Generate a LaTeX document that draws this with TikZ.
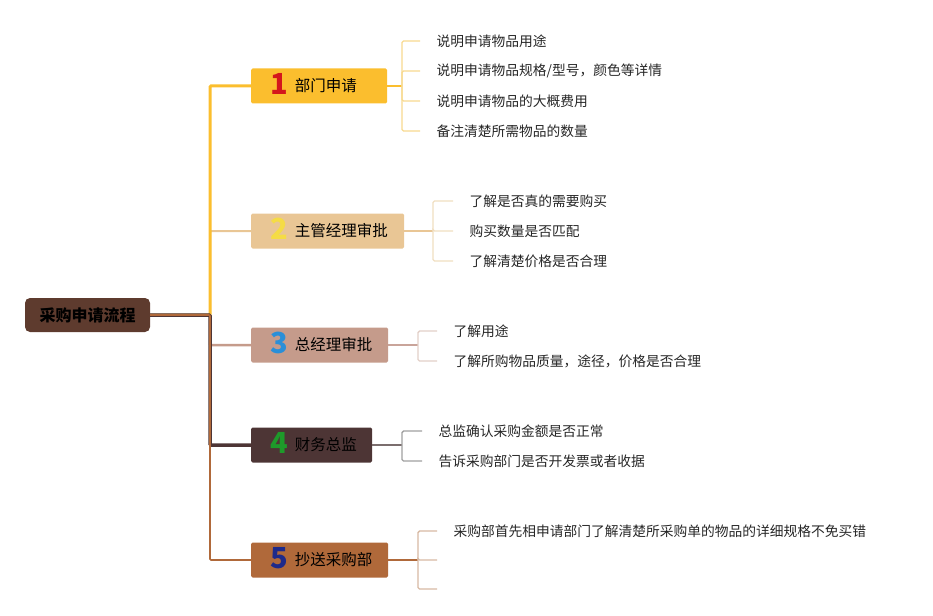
\documentclass[tikz,border=0pt]{standalone}
\usepackage{fontspec}
\setmainfont{Noto Sans CJK SC}
\definecolor{rootbrown}{HTML}{5E3B2E}
\definecolor{stageA}{HTML}{FBBE2E}
\definecolor{stageB}{HTML}{E9C695}
\definecolor{stageC}{HTML}{C59B8B}
\definecolor{stageD}{HTML}{4D3535}
\definecolor{stageE}{HTML}{B0693A}
\definecolor{numA}{HTML}{D4161C}
\definecolor{numB}{HTML}{F5DC45}
\definecolor{numC}{HTML}{2A8FD8}
\definecolor{numD}{HTML}{1E9A2A}
\definecolor{numE}{HTML}{1E2A8A}
\definecolor{twigA}{HTML}{FBBE2E}
\definecolor{twigB}{HTML}{E9C695}
\definecolor{twigC}{HTML}{C9A49A}
\definecolor{twigD}{HTML}{7B6E6E}
\definecolor{twigE}{HTML}{B0693A}
\definecolor{leafA}{HTML}{F7D98F}
\definecolor{leafB}{HTML}{F0DEC0}
\definecolor{leafC}{HTML}{E2CFC8}
\definecolor{leafD}{HTML}{A0A0A0}
\definecolor{leafE}{HTML}{D7B9A3}
\newcommand\stagenum[2]{\raisebox{-3pt}[0pt][0pt]{\textcolor{#1}{\fontsize{29}{29}\selectfont\bfseries #2}}\hspace{7pt}}

\begin{document}
\begin{tikzpicture} [
                x=1pt, y=-1pt,
                root/.style={rectangle,rounded corners=5pt,fill=rootbrown,minimum width=125pt,minimum height=34pt,inner sep=0pt,font=\fontsize{16}{16}\selectfont\bfseries},
                stage/.style={rectangle,rounded corners=1.5pt,anchor=west,minimum height=35pt,inner xsep=19pt,inner ysep=0pt,font=\fontsize{15.5}{16}\selectfont},
                leaf/.style={anchor=west,inner xsep=16.5pt,inner ysep=0pt,text=black!85,font=\fontsize{13.75}{14}\selectfont},
                trunk/.style={draw,rounded corners=1pt},
                twig/.style={draw,line width=1.4pt,rounded corners=1.5pt},
            ]
            \useasboundingbox (0,0) rectangle (933,615);
            \node[root] (root) at (87.5,315) {采购申请流程};
            \foreach \y/\name/\col/\numcol/\num/\txt/\tw in {
                    86/s1/stageA/numA/1/部门申请/98, 231/s2/stageB/numB/2/主管经理审批/115,
                    345/s3/stageC/numC/3/总经理审批/99, 445/s4/stageD/numD/4/财务总监/83,
                    560/s5/stageE/numE/5/抄送采购部/99}
                \node[stage,fill=\col] (\name) at (251,\y) {\makebox[\tw pt][l]{\stagenum{\numcol}{\num}\txt}};
            \foreach \x/\y/\name/\txt in {
                    420/41/s1a/说明申请物品用途, 420/71/s1b/{说明申请物品规格/型号，颜色等详情},
                    420/101/s1c/说明申请物品的大概费用, 420/131/s1d/备注清楚所需物品的数量,
                    453/201/s2a/了解是否真的需要购买, 453/231/s2b/购买数量是否匹配, 453/261/s2c/了解清楚价格是否合理,
                    437/331/s3a/了解用途, 437/361/s3b/了解所购物品质量，途径，价格是否合理,
                    422/431/s4a/总监确认采购金额是否正常, 422/461/s4b/告诉采购部门是否开发票或者收据,
                    437/531/s5a/采购部首先相申请部门了解清楚所采购单的物品的详细规格不免买错,
                    437/560/s5b/{}, 437/589/s5c/{}}
                \node[leaf] (\name) at (\x,\y) {\txt};
            % trunk from the root to every stage
            \coordinate (spine) at (210,315);
            \foreach \name/\col/\wd in {
                    s2/stageB/2pt, s1/stageA/3pt, s3/stageC/2.5pt, s4/stageD/3.5pt, s5/stageE/1.6pt}
                \path[trunk,draw=\col,line width=\wd] (root.east) -- (spine) |- (\name.west);
            % brackets from every stage to its notes
            \foreach \name/\jx/\jy/\col/\lcol/\leaves in {
                    s1/402/86/twigA/leafA/{s1a,s1b,s1c,s1d}, s2/433/231/twigB/leafB/{s2a,s2b,s2c},
                    s3/418/345/twigC/leafC/{s3a,s3b}, s4/402/445/twigD/leafD/{s4a,s4b},
                    s5/418/560/twigE/leafE/{s5a,s5b,s5c}} {
                \coordinate (j\name) at (\jx,\jy);
                \path[twig,draw=\col] (\name.east) -- (j\name);
                \foreach \l in \leaves
                    \path[twig,draw=\lcol] (j\name) |- (\l.west);
            }
        \end{tikzpicture}
\end{document}
